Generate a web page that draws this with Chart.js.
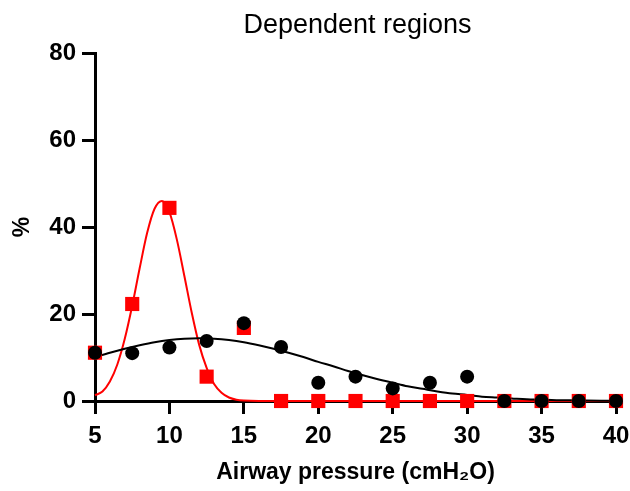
<!DOCTYPE html>
<html>
<head>
<meta charset="utf-8">
<script src="https://cdn.jsdelivr.net/npm/chart.js@4.4.1/dist/chart.umd.min.js"></script>
<style>
  html, body { margin: 0; padding: 0; background: #fff; }
  canvas { display: block; }
</style>
</head>
<body>
<canvas id="chart" width="630" height="491"></canvas>
<script>
// measured points (%), one per airway pressure step
const pressures = [5, 7.5, 10, 12.5, 15, 17.5, 20, 22.5, 25, 27.5, 30, 32.5, 35, 37.5, 40];
const blackPoints = [11.1, 11.0, 12.3, 13.8, 17.9, 12.4, 4.2, 5.6, 2.9, 4.2, 5.6, 0, 0, 0, 0];
const redPoints = [11.1, 22.3, 44.4, 5.6, 16.8, 0, 0, 0, 0, 0, 0, 0, 0, 0, 0];

// fitted curves
const blackFitX = [5, 6, 7, 8, 9, 10, 11, 12, 13, 14, 15, 16, 17, 18, 19, 20, 21, 22, 23, 24, 25, 26, 27, 28, 29, 30, 31, 32, 33, 34, 35, 36, 37, 38, 39, 40];
const blackFitY = [10.1, 11.1, 12.0, 12.8, 13.5, 14.0, 14.3, 14.4, 14.3, 14.0, 13.5, 12.8, 12.0, 11.1, 10.1, 9.0, 8.0, 6.9, 5.9, 5.0, 4.2, 3.4, 2.8, 2.2, 1.7, 1.4, 1.0, 0.8, 0.6, 0.4, 0.3, 0.2, 0.15, 0.1, 0.07, 0.05];
const redFitX = [5, 5.5, 6, 6.5, 7, 7.5, 8, 8.5, 9, 9.5, 10, 10.5, 11, 11.5, 12, 12.5, 13, 13.5, 14, 14.5, 15, 16, 40];
const redFitY = [1.3, 2.2, 4.5, 8.4, 14.3, 21.9, 30.5, 38.6, 44.2, 46.0, 43.4, 37.1, 28.8, 20.3, 12.9, 7.6, 3.9, 1.9, 0.8, 0.3, 0.1, 0, 0];

const xTicks = [5, 10, 15, 20, 25, 30, 35, 40];
const yTicks = [0, 20, 40, 60, 80];

const titleText = 'Dependent regions';
const xTitle = 'Airway pressure (cmH\u2082O)';
const yTitle = '%';

const FONT = "'Liberation Sans', Arial, sans-serif";

const pairs = (xs, ys) => xs.map((x, i) => ({ x: x, y: ys[i] }));

// title centred over the plot area, not the whole canvas
const plotTitle = {
    id: 'plotTitle',
    afterDraw(chart) {
        const ctx = chart.ctx;
        const area = chart.chartArea;
        ctx.save();
        ctx.fillStyle = '#000';
        ctx.font = '27px ' + FONT;
        ctx.textAlign = 'center';
        ctx.textBaseline = 'middle';
        ctx.fillText(titleText, (area.left + area.right) / 2 + 2, 26);
        ctx.restore();
    }
};

const axisStyle = {
    border: { color: '#000', width: 3 },
    grid: { drawOnChartArea: false, drawTicks: true, color: '#000', lineWidth: 3, tickLength: 13 }
};

new Chart(document.getElementById('chart'), {
    type: 'scatter',
    data: {
        datasets: [
            {
                label: 'black points',
                data: pairs(pressures, blackPoints),
                pointStyle: 'circle',
                pointRadius: 7,
                backgroundColor: '#000',
                borderColor: '#000',
                borderWidth: 0,
                clip: false,
                order: 1
            },
            {
                label: 'red points',
                data: pairs(pressures, redPoints),
                pointStyle: 'rect',
                pointRadius: 10,
                backgroundColor: '#ff0000',
                borderColor: '#ff0000',
                borderWidth: 0,
                clip: false,
                order: 2
            },
            {
                label: 'black fit',
                type: 'line',
                data: pairs(blackFitX, blackFitY),
                borderColor: '#000',
                borderWidth: 2,
                pointRadius: 0,
                cubicInterpolationMode: 'monotone',
                fill: false,
                clip: 3,
                order: 3
            },
            {
                label: 'red fit',
                type: 'line',
                data: pairs(redFitX, redFitY),
                borderColor: '#ff0000',
                borderWidth: 2,
                pointRadius: 0,
                cubicInterpolationMode: 'monotone',
                fill: false,
                clip: 3,
                order: 4
            }
        ]
    },
    options: {
        responsive: false,
        animation: false,
        layout: { padding: { top: 53, right: 14, left: 0, bottom: 0 } },
        plugins: {
            legend: { display: false },
            tooltip: { enabled: false },
            title: { display: false }
        },
        scales: {
            x: {
                type: 'linear',
                min: 5,
                max: 40,
                afterBuildTicks: (scale) => { scale.ticks = xTicks.map(v => ({ value: v })); },
                afterFit: (scale) => {
                    scale.height = 90;
                    scale.paddingRight = 14;
                },
                ticks: { color: '#000', padding: 8, maxRotation: 0, font: { family: FONT, size: 24, weight: 'bold' } },
                title: { display: true, text: xTitle, color: '#000', padding: { top: 0, bottom: 5 }, font: { family: FONT, size: 23, weight: 'bold' } },
                ...axisStyle
            },
            y: {
                min: 0,
                max: 80,
                afterBuildTicks: (scale) => { scale.ticks = yTicks.map(v => ({ value: v })); },
                afterFit: (scale) => { scale.width = 95; },
                ticks: { color: '#000', padding: 6, font: { family: FONT, size: 24, weight: 'bold' } },
                title: { display: true, text: yTitle, color: '#000', padding: { top: 9, bottom: 0 }, font: { family: FONT, size: 23, weight: 'bold' } },
                ...axisStyle
            }
        }
    },
    plugins: [plotTitle]
});
</script>
</body>
</html>
